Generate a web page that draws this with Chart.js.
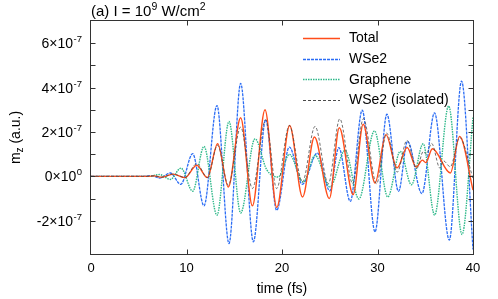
<!DOCTYPE html>
<html><head><meta charset="utf-8">
<script src="https://cdn.jsdelivr.net/npm/chart.js@4.4.1/dist/chart.umd.min.js"></script>
<style>html,body{margin:0;padding:0;background:#fff}#wrap{width:498px;height:299px}</style>
</head><body><div id="wrap"><canvas id="c" width="498" height="299"></canvas></div>
<script>
// values in units of 1e-7 a.u.
const SCALE = 1e-7;

const totalTime  = [0, 6.0, 6.6, 7.4, 8.6, 9.84, 11.07, 12.18, 13.26, 14.38, 15.67, 16.9, 18.22, 19.45, 20.8, 22.15, 23.4, 24.96, 26.0, 27.45, 28.5, 29.74, 30.88, 32.05, 33.1, 34.05, 34.7, 35.05, 35.75, 37.63, 38.6, 40];
const totalValue = [0, 0, 0.02, -0.04, 0.1, -0.06, 0.5, -0.06, 1.47, -0.48, 2.64, -1.33, 3.0, -1.4, 2.29, -0.93, 1.77, -1.0, 2.19, -0.82, 2.35, -0.3, 1.88, 0.38, 1.3, 0.42, 0.73, 0.62, 1.24, 0.15, 1.8, -0.62];

const wse2Time  = [0, 5.5, 6.4, 7.2, 8.3, 9.4, 10.65, 11.83, 13.19, 14.45, 15.67, 17.0, 18.29, 19.44, 20.77, 22.13, 23.7, 25.0, 25.95, 27.15, 28.4, 29.74, 30.98, 32.2, 33.15, 34.65, 35.97, 37.52, 38.8, 40];
const wse2Value = [0, 0, 0.03, -0.08, 0.15, -0.36, 1.02, -1.33, 3.19, -3.03, 4.19, -2.95, 2.55, -1.53, 1.32, -0.36, 1.05, -0.65, 1.29, -1.13, 2.98, -2.5, 2.8, -0.68, 1.58, -0.78, 2.86, -2.87, 4.29, -3.3];

const grapheneTime  = [0, 6.0, 7.2, 8.3, 9.42, 10.65, 11.83, 13.19, 14.45, 15.67, 17.17, 18.4, 19.6, 20.77, 22.23, 23.46, 25.03, 26.6, 28.05, 29.68, 31.08, 32.38, 33.55, 34.78, 35.98, 37.45, 38.85, 40];
const grapheneValue = [0, 0, 0.08, -0.14, 0.37, -0.67, 1.35, -1.75, 2.47, -1.65, 1.69, 0.3, -0.03, 0.99, -0.26, 0.94, -0.48, 1.17, -1.02, 2.05, -0.93, 1.12, -0.38, 1.47, -1.74, 3.17, -2.62, 2.65];

const isolatedTime  = [0, 6.0, 6.6, 7.4, 8.6, 9.84, 11.07, 12.18, 13.26, 14.38, 15.67, 16.9, 18.29, 19.44, 20.77, 22.13, 23.46, 24.85, 26.05, 27.4, 28.52, 29.9, 30.96, 32.07, 33.08, 34.1, 34.8, 35.1, 35.67, 36.54, 36.9, 37.62, 38.6, 40];
const isolatedValue = [0, 0, 0.02, -0.04, 0.1, -0.05, 0.57, -0.05, 1.4, -0.4, 2.22, -0.55, 2.55, -0.55, 2.29, -0.26, 2.25, -0.33, 2.59, -0.33, 2.6, -0.33, 1.95, 0.19, 1.62, 0.35, 1.12, 1.0, 1.48, 0.37, 0.7, 0.43, 1.75, -0.1];

const seriesNames = ['Total', 'WSe2', 'Graphene', 'WSe2 (isolated)'];
const xTickValues = [0, 10, 20, 30, 40];
const yTickValues = [-2e-7, 0, 2e-7, 4e-7, 6e-7];
const yTickMantissa = ['-2×10', '0×10', '2×10', '4×10', '6×10'];
const yTickExponent = ['-7', '0', '-7', '-7', '-7'];

const FONT = "'Liberation Sans', Arial, Helvetica, sans-serif";
Chart.defaults.font.family = FONT;
Chart.defaults.color = '#000';

function toPoints(times, values) { return times.map((t, i) => ({ x: t, y: values[i] * SCALE })); }

const styles = [
  { color: '#ff4d1a', width: 1.4, dash: [], order: 1 },
  { color: '#2a6cf5', width: 1.3, dash: [3, 1], order: 3 },
  { color: '#2fb98a', width: 1.4, dash: [1.5, 1], order: 2 },
  { color: '#4a4a4a', width: 0.8, dash: [3, 2], order: 0 }
];
const seriesData = [
  toPoints(totalTime, totalValue),
  toPoints(wse2Time, wse2Value),
  toPoints(grapheneTime, grapheneValue),
  toPoints(isolatedTime, isolatedValue)
];

const decor = {
  id: 'decor',
  afterDraw(chart) {
    const ctx = chart.ctx, a = chart.chartArea;
    const xs = chart.scales.x, ys = chart.scales.y;
    ctx.save();
    ctx.strokeStyle = '#333'; ctx.lineWidth = 1; ctx.setLineDash([]);
    const L = Math.round(a.left) - 0.5, R = Math.round(a.right) + 0.5, T = Math.round(a.top) - 0.5, B = Math.round(a.bottom) + 0.5;
    ctx.strokeRect(L, T, R - L, B - T);
    ctx.beginPath();
    ys.ticks.forEach(t => {
      const py = Math.round(ys.getPixelForValue(t.value)) + 0.5;
      if (py < a.top + 1 || py > a.bottom - 1) return;
      ctx.moveTo(L, py); ctx.lineTo(L + 5, py);
      ctx.moveTo(R, py); ctx.lineTo(R - 5, py);
    });
    xs.ticks.forEach(t => {
      const px = Math.round(xs.getPixelForValue(t.value)) + 0.5;
      if (px < a.left + 1 || px > a.right - 1) return;
      ctx.moveTo(px, B); ctx.lineTo(px, B - 5);
      ctx.moveTo(px, T); ctx.lineTo(px, T + 5);
    });
    ctx.stroke();
    ctx.fillStyle = '#000';
    ctx.textBaseline = 'alphabetic';
    yTickValues.forEach((v, i) => {
      const py = ys.getPixelForValue(v);
      ctx.font = '9.5px ' + FONT;
      const ew = ctx.measureText(yTickExponent[i]).width;
      const right = 82;
      ctx.textAlign = 'left';
      ctx.fillText(yTickExponent[i], right - ew, py - 1);
      ctx.font = '14px ' + FONT;
      ctx.textAlign = 'right';
      ctx.fillText(yTickMantissa[i], right - ew - 0.5, py + 5);
    });
    ctx.save();
    ctx.translate(20, (a.top + a.bottom) / 2);
    ctx.rotate(-Math.PI / 2);
    ctx.font = '14px ' + FONT;
    const w1 = ctx.measureText('m').width;
    const w3 = ctx.measureText(' (a.u.)').width;
    ctx.font = '10px ' + FONT;
    const w2 = ctx.measureText('z').width;
    let sx = -(w1 + w2 + w3) / 2;
    ctx.textAlign = 'left';
    ctx.font = '14px ' + FONT; ctx.fillText('m', sx, 0); sx += w1;
    ctx.font = '10px ' + FONT; ctx.fillText('z', sx, 3); sx += w2;
    ctx.font = '14px ' + FONT; ctx.fillText(' (a.u.)', sx, 0);
    ctx.restore();
    let tx = 91; const tb = 16;
    const parts = [['(a) I = 10', 15, 0], ['9', 10.5, -6], [' W/cm', 15, 0], ['2', 10.5, -6]];
    ctx.textAlign = 'left';
    parts.forEach(p => {
      ctx.font = p[1] + 'px ' + FONT;
      ctx.fillText(p[0], tx, tb + p[2]);
      tx += ctx.measureText(p[0]).width;
    });
    const legY = [38, 58.7, 79.4, 100.1];
    seriesNames.forEach((name, i) => {
      const y = Math.round(legY[i]) + 0.5;
      ctx.strokeStyle = styles[i].color;
      ctx.lineWidth = Math.max(1.2, styles[i].width);
      ctx.setLineDash(styles[i].dash);
      ctx.beginPath(); ctx.moveTo(303, y); ctx.lineTo(340, y); ctx.stroke();
      ctx.setLineDash([]);
      ctx.font = '14px ' + FONT; ctx.fillStyle = '#000';
      ctx.textAlign = 'left'; ctx.textBaseline = 'middle';
      ctx.fillText(name, 349, legY[i] + 0.5);
    });
    ctx.restore();
  }
};

new Chart(document.getElementById('c'), {
  type: 'line',
  data: {
    datasets: seriesNames.map((name, i) => ({
      label: name,
      data: seriesData[i],
      borderColor: styles[i].color,
      borderWidth: styles[i].width,
      borderDash: styles[i].dash,
      order: styles[i].order,
      pointRadius: 0,
      fill: false,
      cubicInterpolationMode: 'monotone'
    }))
  },
  options: {
    responsive: false,
    animation: false,
    devicePixelRatio: 1,
    layout: { padding: { left: 0, right: 25, top: 21, bottom: 0 } },
    plugins: { legend: { display: false }, tooltip: { enabled: false } },
    scales: {
      x: {
        type: 'linear', min: 0, max: 40,
        afterBuildTicks: s => { s.ticks = xTickValues.map(v => ({ value: v })); },
        ticks: { font: { size: 13 }, color: '#000', padding: 7, maxRotation: 0 },
        grid: { display: false, drawTicks: false },
        border: { display: false },
        title: { display: true, text: 'time (fs)', font: { size: 14 }, color: '#000', padding: { top: 0, bottom: 1 } },
        afterFit: s => { s.height = 45; }
      },
      y: {
        type: 'linear', min: -3.5e-7, max: 7e-7,
        ticks: { display: false, stepSize: 1e-7 },
        grid: { display: false, drawTicks: false },
        border: { display: false },
        afterFit: s => { s.width = 91; }
      }
    }
  },
  plugins: [decor]
});
</script>
</body></html>
